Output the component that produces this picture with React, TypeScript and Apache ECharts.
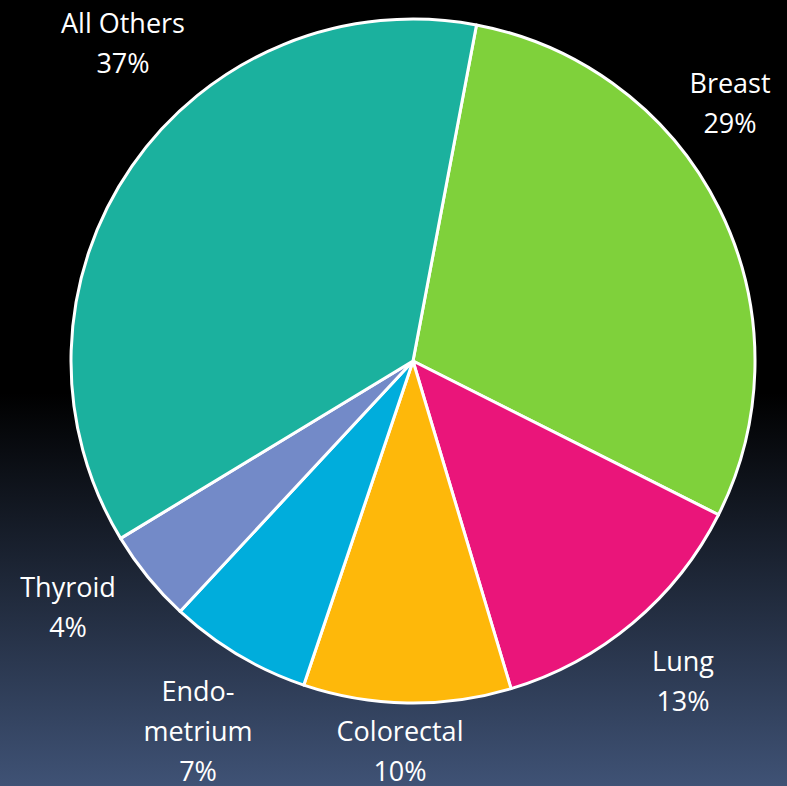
import React, { useEffect, useRef } from "react";
import * as echarts from "echarts";

const categories = ["Breast", "Lung", "Colorectal", "Endo-\nmetrium", "Thyroid", "All Others"];
const values = [29.45, 12.95, 9.8, 6.75, 4.4, 36.65];
const colors = ["#7FD13B", "#EA157A", "#FEB80A", "#00ADDC", "#738AC8", "#1BB19E"];

// label anchor offsets (px) from pie centre, per slice (styling only)
const labelOffsets: Record<string, [number, number]> = {
  "Breast": [317, -259],
  "Lung": [270, 319],
  "Colorectal": [-13, 389],
  "Endo-\nmetrium": [-215, 369],
  "Thyroid": [-345, 245],
  "All Others": [-290, -319],
};

const CX = 413;
const CY = 361;
const R = 342;

export default function App() {
  const ref = useRef<HTMLDivElement>(null);
  useEffect(() => {
    if (!ref.current) return;
    const chart = echarts.init(ref.current, undefined, { renderer: "svg" });
    chart.setOption({
      animation: false,
      backgroundColor: {
        type: "linear",
        x: 0, y: 0, x2: 0, y2: 1,
        colorStops: [
          { offset: 0, color: "#000000" },
          { offset: 0.5, color: "#000000" },
          { offset: 1, color: "#3f5275" },
        ],
      },
      series: [
        {
          type: "pie",
          center: [CX, CY],
          radius: [0, R],
          startAngle: 79.3,
          clockwise: true,
          avoidLabelOverlap: false,
          data: categories.map((c, i) => ({
            name: c,
            value: values[i],
            itemStyle: { color: colors[i] },
          })),
          itemStyle: { borderColor: "#ffffff", borderWidth: 3 },
          label: {
            show: true,
            position: "outside",
            formatter: (p: any) => `${p.name}\n${Math.round(p.value)}%`,
            color: "#ffffff",
            fontFamily: "Open Sans",
            fontSize: 27,
            lineHeight: 40,
            align: "center",
          },
          labelLine: { show: false },
          labelLayout: (p: any) => {
            const name = categories[p.dataIndex];
            const off = labelOffsets[name];
            return {
              x: CX + off[0],
              y: CY + off[1],
              align: "center",
              verticalAlign: "middle",
              hideOverlap: false,
            };
          },
        },
      ],
    });
    return () => chart.dispose();
  }, []);
  return (
    <div
      ref={ref}
      style={{ position: "fixed", left: 0, top: 0, width: 787, height: 786 }}
    />
  );
}
